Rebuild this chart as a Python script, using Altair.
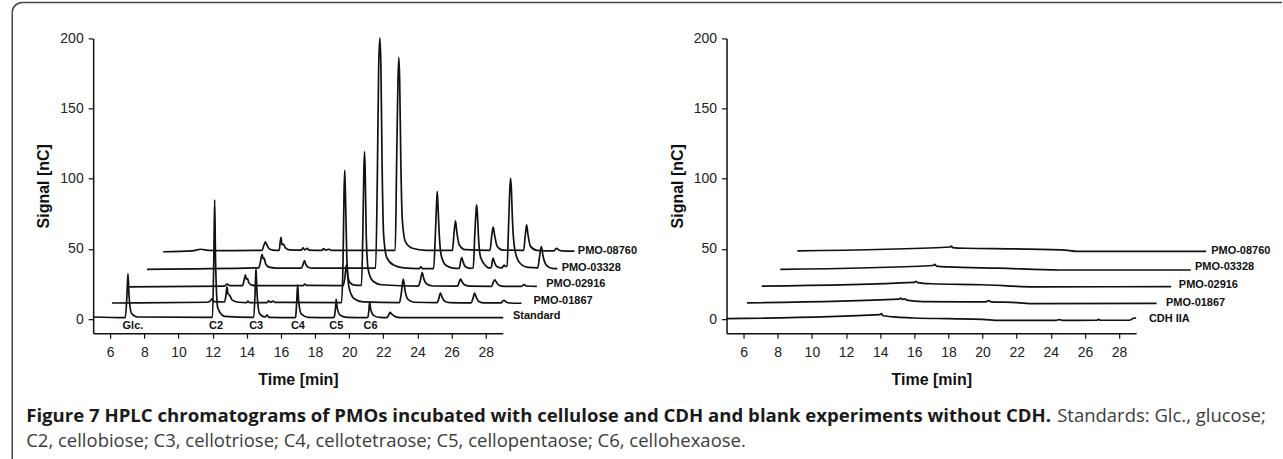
import altair as alt
import pandas as pd

X_TICKS = [6, 8, 10, 12, 14, 16, 18, 20, 22, 24, 26, 28]
Y_TICKS = [0, 50, 100, 150, 200]

# ---------------- left panel (with CDH) : (time [min], signal [nC]) ----------------
L_STANDARD = [(5.0, 1.5), (6.85, 1), (6.88, 1), (6.98, 17), (7.04, 32.5), (7.1, 17), (7.25, 4), (7.6, 1.5),
              (11.9, 1.2), (11.98, 1.5), (12.07, 43), (12.12, 85), (12.17, 43), (12.3, 8), (12.7, 2),
              (14.3, 1.2), (14.4, 1.5), (14.49, 19), (14.54, 36.3), (14.6, 19), (14.75, 4), (15.05, 1.5),
              (15.2, 2.8), (15.3, 1.3), (16.8, 1), (16.86, 1.5), (16.93, 13), (16.98, 24.5), (17.04, 13),
              (17.2, 3.5), (17.6, 1.3), (19.05, 1), (19.12, 1.5), (19.2, 8), (19.24, 14), (19.3, 8),
              (19.5, 2.5), (19.9, 1.2), (21.02, 1), (21.1, 1.5), (21.16, 7), (21.2, 12.3), (21.26, 7),
              (21.45, 2.5), (21.8, 1.2), (22.2, 1), (22.3, 2.5), (22.4, 4.8), (22.5, 3.5), (22.7, 1.8),
              (23.0, 1.1), (29.03, 1)]
L_PMO01867 = [(6.1, 11.5), (11.7, 12), (11.9, 13.5), (11.96, 14.5), (12.02, 13.2), (12.08, 12.5),
              (12.7, 12.2), (12.78, 17), (12.84, 23), (12.9, 18), (12.95, 17.5), (13.02, 16.5), (13.15, 13.5),
              (13.5, 12), (14.0, 11.8), (14.07, 12.8), (14.15, 11.8), (15.2, 11.8), (15.28, 13), (15.38, 12),
              (15.55, 12.8), (15.65, 11.9), (19.55, 11.8), (19.64, 40), (19.7, 90), (19.74, 106), (19.78, 90),
              (19.86, 45), (20.0, 22), (20.3, 14.5), (20.8, 12.3), (22.95, 11.8), (23.05, 18), (23.17, 28.5),
              (23.28, 20), (23.45, 14), (23.8, 12), (25.15, 11.8), (25.25, 14.5), (25.35, 18.5), (25.45, 15.5),
              (25.6, 12.8), (25.9, 11.8), (27.15, 11.6), (27.25, 14.5), (27.35, 18.5), (27.45, 15.5),
              (27.6, 12.6), (27.9, 11.6), (28.9, 11.6), (29.0, 12.8), (29.07, 13.3), (29.2, 12.2),
              (29.4, 11.5), (30.1, 11.3)]
L_PMO02916 = [(7.06, 23), (12.7, 23.5), (12.85, 25), (13.0, 23.8), (13.75, 23.8), (13.85, 28), (13.92, 31.5),
              (13.98, 28.5), (14.05, 28.8), (14.12, 26), (14.3, 24.2), (14.6, 23.8), (17.3, 23.8), (17.4, 25),
              (17.5, 24), (19.65, 23.8), (19.75, 30), (19.84, 38.6), (19.92, 31), (20.05, 26), (20.3, 24.2),
              (20.72, 24), (20.8, 60), (20.86, 105), (20.9, 119.3), (20.94, 105), (21.0, 60), (21.12, 35),
              (21.4, 27), (21.9, 24.5), (24.05, 23.5), (24.18, 28), (24.28, 33.2), (24.38, 28.5), (24.55, 25),
              (24.9, 23.6), (26.35, 23.5), (26.45, 26.5), (26.53, 28.5), (26.62, 26.5), (26.8, 24.2),
              (27.1, 23.5), (28.35, 23.4), (28.45, 26.5), (28.54, 28), (28.63, 26.2), (28.8, 24),
              (29.1, 23.4), (30.1, 23.4), (30.25, 24.6), (30.4, 23.6), (31.0, 23.3)]
L_PMO03328 = [(8.15, 35.5), (14.7, 36.5), (14.82, 42), (14.9, 46.2), (14.96, 43), (15.02, 43.5), (15.1, 39.5),
              (15.3, 37), (15.7, 36.4), (17.2, 36.4), (17.3, 39), (17.38, 41.7), (17.46, 39), (17.6, 37),
              (17.9, 36.3), (21.55, 36.3), (21.65, 100), (21.73, 180), (21.8, 200.5), (21.86, 180),
              (21.93, 110), (22.02, 60), (22.2, 44), (22.6, 38.5), (23.2, 36.5), (24.1, 36), (24.2, 37.2),
              (24.3, 36), (24.95, 36), (25.05, 60), (25.12, 82), (25.16, 90.8), (25.2, 82), (25.28, 60),
              (25.4, 45), (25.7, 38), (26.2, 36.2), (26.45, 36.2), (26.53, 41), (26.6, 43.8), (26.67, 41),
              (26.8, 37.5), (27.1, 36.2), (27.27, 36.4), (27.36, 60), (27.43, 76), (27.47, 81.4), (27.51, 76),
              (27.58, 58), (27.7, 44), (28.0, 38), (28.25, 36.4), (28.33, 37), (28.4, 42), (28.44, 43.5),
              (28.5, 41), (28.65, 37.5), (28.95, 36.5), (29.08, 38.5), (29.15, 37.5), (29.25, 38),
              (29.35, 70), (29.42, 94), (29.46, 100.3), (29.5, 94), (29.57, 70), (29.7, 50), (30.0, 40),
              (30.5, 36.8), (31.05, 36.5), (31.15, 44), (31.26, 51.7), (31.36, 45), (31.55, 38.5),
              (31.9, 36.2), (32.2, 36)]
L_PMO08760 = [(9.1, 48), (10.8, 48.6), (11.3, 49.8), (11.8, 49), (12.5, 48.8), (14.9, 49), (15.0, 52.5),
              (15.09, 55), (15.18, 52.8), (15.35, 49.8), (15.7, 49), (15.9, 49), (15.96, 55), (16.01, 58.3),
              (16.06, 53), (16.15, 53.5), (16.25, 51), (16.5, 49.4), (17.2, 49.2), (17.3, 50.8), (17.4, 49.4),
              (17.55, 50.4), (17.65, 49.2), (18.4, 49), (18.5, 50.3), (18.6, 49.2), (18.85, 49.8),
              (18.95, 49), (22.7, 49), (22.78, 110), (22.86, 170), (22.91, 186.5), (22.96, 170),
              (23.03, 110), (23.12, 70), (23.3, 55), (23.7, 50.5), (24.5, 49), (26.05, 49), (26.15, 62),
              (26.23, 70), (26.31, 62), (26.45, 53), (26.8, 49.5), (28.25, 49), (28.36, 60), (28.44, 65.5),
              (28.52, 60), (28.67, 52), (29.0, 49.2), (30.22, 49), (30.33, 61), (30.4, 67.1), (30.47, 61),
              (30.62, 52), (31.0, 49), (32.0, 48.6), (32.1, 50), (32.16, 50.5), (32.25, 49.5),
              (32.45, 48.6), (33.2, 48.4)]

# ---------------- right panel (blank, without CDH) ----------------
R_CDH = [(5.0, 0.3), (14.0, 3.2), (14.07, 4), (14.15, 2.6), (15.0, 1.4), (16.0, 0.8), (18.0, 0.3),
         (20.0, -0.2), (21.0, -0.9), (24.3, -0.9), (24.5, -0.3), (24.7, -0.9), (26.7, -0.8), (26.8, -0.1),
         (26.9, -0.8), (28.6, -0.8), (28.9, 0.8), (29.0, 0.7)]
R_PMO01867 = [(6.2, 11.6), (15.1, 14.2), (15.2, 15), (15.3, 14), (15.45, 14.5), (15.55, 13.5), (16.5, 12.5),
              (20.2, 12.3), (20.35, 13.2), (20.5, 12.3), (22.0, 11.8), (23.0, 11), (30.2, 11.2)]
R_PMO02916 = [(7.06, 23.5), (16.0, 26.2), (16.1, 27), (16.2, 26), (17.0, 25.2), (20.0, 24.5), (23.0, 23),
              (31.05, 23.2)]
R_PMO03328 = [(8.15, 35.4), (17.1, 38.2), (17.2, 39), (17.3, 37.8), (18.0, 37.2), (21.0, 36.3), (24.5, 35),
              (32.2, 35)]
R_PMO08760 = [(9.15, 48.6), (18.1, 51.4), (18.17, 52), (18.25, 51), (19.0, 50.5), (22.0, 50), (25.0, 49),
              (25.5, 48.3), (33.1, 48.3)]

L_NAMES = ["Standard", "PMO-01867", "PMO-02916", "PMO-03328", "PMO-08760"]
R_NAMES = ["CDH IIA", "PMO-01867", "PMO-02916", "PMO-03328", "PMO-08760"]
L_LABEL_T = [29.6, 30.8, 31.55, 32.45, 33.4]
L_LABEL_S = [2.4, 13, 25, 36.7, 48.8]
R_LABEL_T = [29.75, 30.75, 31.5, 32.45, 33.4]
R_LABEL_S = [0.2, 11.8, 24.6, 37, 48.8]

PEAK_NAMES = ["Glc.", "C2", "C3", "C4", "C5", "C6"]
PEAK_T = [7.33, 12.2, 14.55, 17.0, 19.25, 21.25]
PEAK_S = [-5, -5, -5, -5, -5, -5]

CAPTION_BOLD = "Figure 7 HPLC chromatograms of PMOs incubated with cellulose and CDH and blank experiments without CDH."
CAPTION_1 = "Standards: Glc., glucose;"
CAPTION_2 = "C2, cellobiose; C3, cellotriose; C4, cellotetraose; C5, cellopentaose; C6, cellohexaose."

AX_FONT = "Liberation Sans"
INK = "#111111"


def trace_frame(names, traces):
    rows = []
    for name, pts in zip(names, traces):
        for i, (t, s) in enumerate(pts):
            rows.append({"trace": name, "i": i, "t": t, "s": s})
    return pd.DataFrame(rows)


X_AXIS = alt.Axis(values=X_TICKS, title="Time [min]", labelOverlap=False, labelSeparation=0,
                  tickCount=12, labelFlush=False)
Y_AXIS = alt.Axis(values=Y_TICKS, title="Signal [nC]")


def panel(names, traces, lab_t, lab_s):
    xs = alt.Scale(domain=[5, 29], nice=False, zero=False)
    ys = alt.Scale(domain=[-10, 200], nice=False, zero=False)
    lines = alt.Chart(trace_frame(names, traces)).mark_line(
        color=INK, strokeWidth=1.7, interpolate="monotone"
    ).encode(
        x=alt.X("t:Q", scale=xs, axis=X_AXIS),
        y=alt.Y("s:Q", scale=ys, axis=Y_AXIS),
        detail="trace:N",
        order="i:Q",
    )
    lab_df = pd.DataFrame({"name": names, "t": lab_t, "s": lab_s})
    labels = alt.Chart(lab_df).mark_text(
        align="left", baseline="middle", font=AX_FONT, fontSize=11, fontWeight="bold", color=INK
    ).encode(x=alt.X("t:Q", scale=xs, axis=X_AXIS), y=alt.Y("s:Q", scale=ys, axis=Y_AXIS), text="name:N")
    return lines, labels, xs, ys


l_lines, l_labels, xs, ys = panel(L_NAMES, [L_STANDARD, L_PMO01867, L_PMO02916, L_PMO03328, L_PMO08760],
                                  L_LABEL_T, L_LABEL_S)
r_lines, r_labels, _, _ = panel(R_NAMES, [R_CDH, R_PMO01867, R_PMO02916, R_PMO03328, R_PMO08760],
                                R_LABEL_T, R_LABEL_S)

peak_df = pd.DataFrame({"name": PEAK_NAMES, "t": PEAK_T, "s": PEAK_S})
peaks = alt.Chart(peak_df).mark_text(
    align="center", baseline="middle", font=AX_FONT, fontSize=11, fontWeight="bold", color=INK
).encode(x=alt.X("t:Q", scale=xs, axis=X_AXIS), y=alt.Y("s:Q", scale=ys, axis=Y_AXIS), text="name:N")

one = alt.Data(values=[{"k": 1}])
BORDER = "#444444"
border_left = alt.Chart(one).mark_rule(color=BORDER, strokeWidth=1.5).encode(
    x=alt.value(-81), y=alt.value(-26), y2=alt.value(421))
border_top = alt.Chart(one).mark_rule(color=BORDER, strokeWidth=1.5).encode(
    y=alt.value(-36), x=alt.value(-71), x2=alt.value(1190))
corner = alt.Chart(one).mark_arc(
    innerRadius=9.25, outerRadius=10.75, theta=4.7124, theta2=6.2832, color=BORDER
).encode(x=alt.value(-71), y=alt.value(-26))

cap_bold = alt.Chart(one).mark_text(
    align="left", baseline="middle", font="Open Sans", fontSize=18.6, fontWeight="bold", color="#1a1a1a"
).encode(x=alt.value(-67), y=alt.value(378), text=alt.value(CAPTION_BOLD))
cap_1 = alt.Chart(one).mark_text(
    align="left", baseline="middle", font="Open Sans", fontSize=18.5, color="#3c3c3c"
).encode(x=alt.value(965), y=alt.value(378), text=alt.value(CAPTION_1))
cap_2 = alt.Chart(one).mark_text(
    align="left", baseline="middle", font="Open Sans", fontSize=18.5, color="#3c3c3c"
).encode(x=alt.value(-67), y=alt.value(403), text=alt.value(CAPTION_2))

left = alt.layer(l_lines, l_labels, peaks, border_left, border_top, corner, cap_bold, cap_1, cap_2).properties(
    width=410, height=295)
right = alt.layer(r_lines, r_labels).properties(width=410, height=295)

chart = alt.hconcat(left, right, spacing=224, bounds="flush").properties(
    padding={"left": 11.25, "top": 1.25, "right": 0, "bottom": 0}
).configure_view(stroke=None).configure_axis(
    grid=False, domainColor=INK, domainWidth=1.5, tickColor=INK, tickWidth=1.2, tickSize=5,
    labelFont=AX_FONT, labelFontSize=14, labelColor="#222222",
    titleFont=AX_FONT, titleFontSize=16, titleFontWeight="bold", titleColor=INK,
).configure_axisX(labelPadding=7, titlePadding=12, labelOverlap=False, labelSeparation=0).configure_axisY(
    titlePadding=8, labelPadding=5)

chart.save("out.html", embed_options={"renderer": "svg", "actions": False})
